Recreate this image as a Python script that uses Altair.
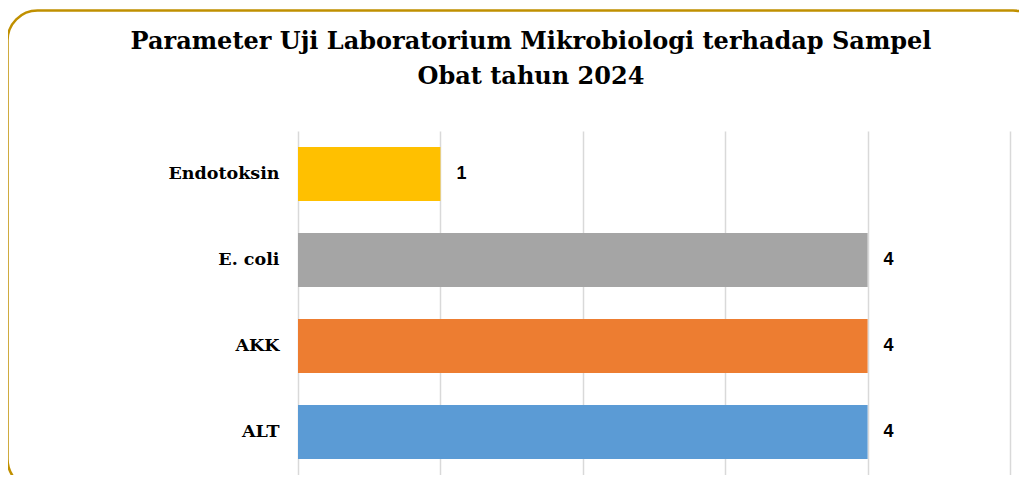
import altair as alt
import pandas as pd

categories = ["Endotoksin", "E. coli", "AKK", "ALT"]
values = [1, 4, 4, 4]
colors = ["#FFC000", "#A5A5A5", "#ED7D31", "#5B9BD5"]

df = pd.DataFrame({"param": categories, "jumlah": values})

base = alt.Chart(df)

y_enc = alt.Y("param:N", sort=categories, title=None,
              scale=alt.Scale(paddingInner=0.37, paddingOuter=0.185),
              axis=alt.Axis(labelFont="DejaVu Serif", labelFontWeight="bold",
                            labelFontSize=17.5, labelColor="#000000", labelPadding=19,
                            ticks=False, domain=False, grid=False))
x_enc = alt.X("jumlah:Q", title=None, scale=alt.Scale(domain=[0, 5], nice=False),
              axis=alt.Axis(values=[0, 1, 2, 3, 4, 5], labels=False, ticks=False,
                            domain=False, grid=True, gridColor="#D9D9D9", gridWidth=1.5))

bars = base.mark_bar().encode(
    x=x_enc, y=y_enc,
    color=alt.Color("param:N", scale=alt.Scale(domain=categories, range=colors), legend=None),
)

labels = base.mark_text(align="left", baseline="middle", dx=16, font="Liberation Sans",
                        fontWeight="bold", fontSize=18, color="#000000").encode(
    x=alt.X("jumlah:Q"), y=alt.Y("param:N", sort=categories), text="jumlah:Q"
)

frame = alt.Chart(alt.Data(values=[{"a": 1}])).mark_rect(
    fill=None, stroke="#C09000", strokeWidth=2.5, cornerRadius=30
).encode(x=alt.value(-290.5), x2=alt.value(745), y=alt.value(-120.5), y2=alt.value(358))

chart = alt.layer(frame, bars, labels).properties(
    width=712, height=344,
    padding={"left": 290, "top": 123, "right": 9, "bottom": 0},
    autosize=alt.AutoSizeParams(type="none"),
    title=alt.TitleParams(
        ["Parameter Uji Laboratorium Mikrobiologi terhadap Sampel", "Obat tahun 2024"],
        font="DejaVu Serif", fontWeight="bold", fontSize=24, color="#000000",
        anchor="middle", frame="group", dx=-123, offset=0, dy=80, lineHeight=35,
    ),
).configure_view(stroke=None)

chart.save("out.html", embed_options={"renderer": "svg", "actions": False})
